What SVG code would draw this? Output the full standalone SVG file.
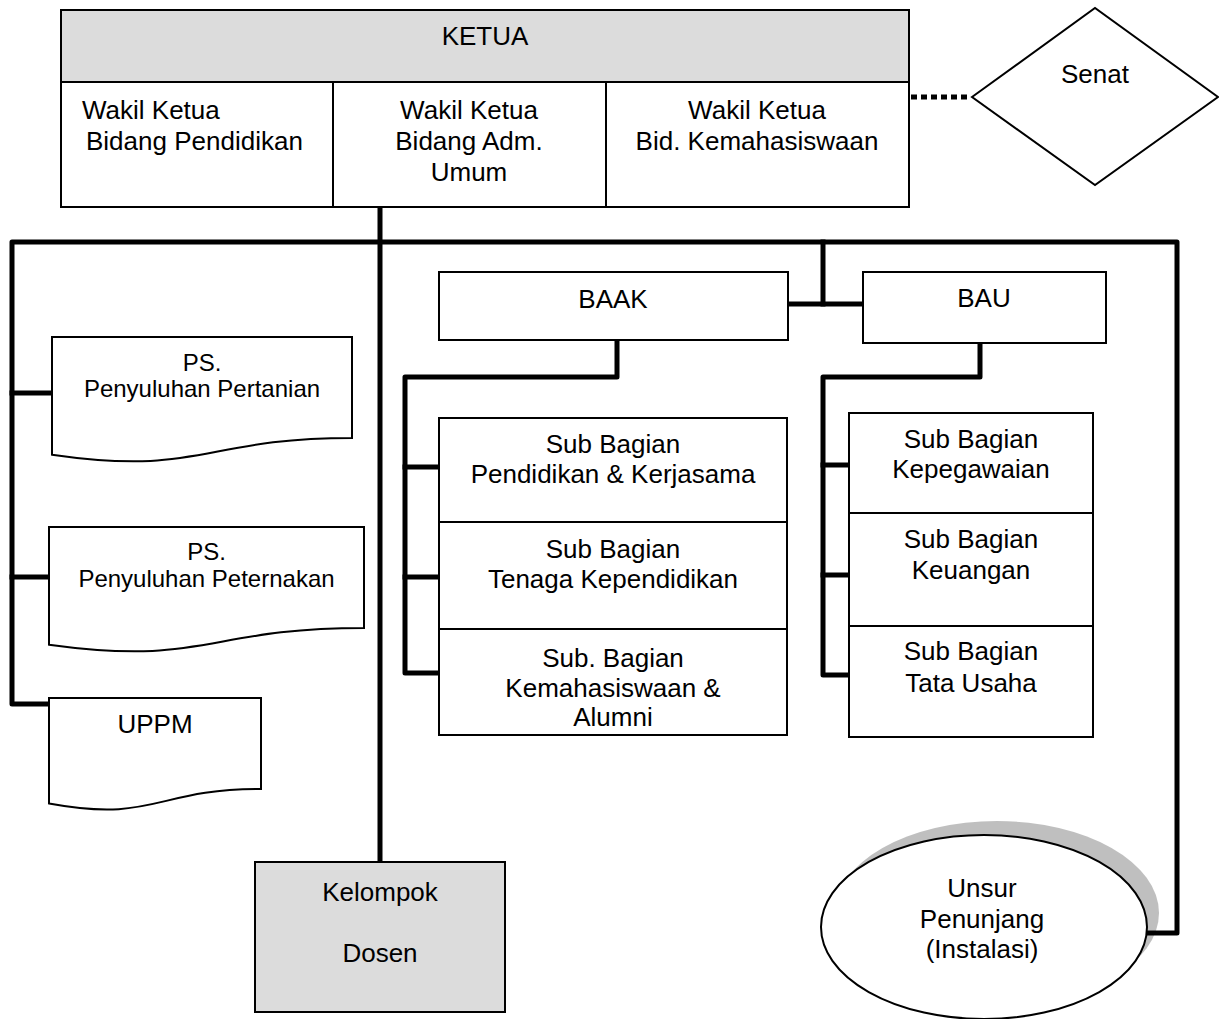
<svg xmlns="http://www.w3.org/2000/svg" width="1219" height="1019" viewBox="0 0 1219 1019">
<style>
  .bg { fill: #ffffff; }
  .box { fill: #ffffff; stroke: #000000; stroke-width: 2; }
  .gray { fill: #dcdcdc; stroke: #000000; stroke-width: 2; }
  .div { stroke: #000000; stroke-width: 2; fill: none; }
  .conn { fill: none; stroke: #000000; stroke-width: 5; stroke-linejoin: round; stroke-linecap: square; }
  .dot { fill: none; stroke: #000000; stroke-width: 5; stroke-dasharray: 6 4; }
  text { font-family: "Liberation Sans", Arial, sans-serif; font-size: 26px; fill: #000000; }
  .c { text-anchor: middle; }
  .s24 { font-size: 24px; }
  .shadow { fill: #000000; fill-opacity: 0.25; }
</style>
<rect class="bg" x="0" y="0" width="1219" height="1019"/>

<g id="connectors">
  <path class="conn" d="M380,207 V862"/>
  <path class="conn" d="M49,704 H12 V242 H1177 V933 H1143"/>
  <path class="conn" d="M12,393 H52"/>
  <path class="conn" d="M12,577 H49"/>
  <path class="conn" d="M788,304 H863"/>
  <path class="conn" d="M823,242 V304"/>
  <path class="conn" d="M617,340 V377 H405 V673 H439"/>
  <path class="conn" d="M405,467 H439"/>
  <path class="conn" d="M405,577 H439"/>
  <path class="conn" d="M980,343 V377 H823 V675 H849"/>
  <path class="conn" d="M823,465 H849"/>
  <path class="conn" d="M823,575 H849"/>
  <path class="dot" d="M911,97 H970"/>
</g>

<g id="ketua">
  <rect class="box" x="61" y="10" width="848" height="197"/>
  <rect class="gray" x="61" y="10" width="848" height="72"/>
  <line class="div" x1="333" y1="82" x2="333" y2="207"/>
  <line class="div" x1="606" y1="82" x2="606" y2="207"/>
  <text class="c" x="485" y="45">KETUA</text>
</g>

<g id="wakil-pendidikan">
  <text x="82" y="119">Wakil Ketua</text>
  <text x="86" y="150">Bidang Pendidikan</text>
</g>

<g id="wakil-adm">
  <text class="c" x="469" y="119">Wakil Ketua</text>
  <text class="c" x="469" y="150">Bidang Adm.</text>
  <text class="c" x="469" y="181">Umum</text>
</g>

<g id="wakil-kemahasiswaan">
  <text class="c" x="757" y="119">Wakil Ketua</text>
  <text class="c" x="757" y="150">Bid. Kemahasiswaan</text>
</g>

<g id="senat">
  <polygon class="box" points="972,97 1095,8 1218,97 1095,185"/>
  <text class="c" x="1095" y="83">Senat</text>
</g>

<g id="ps-pertanian">
  <path class="box" d="M52,337 H352 V438 C202,438 202,476.5 52,454.7 Z"/>
  <text class="c s24" x="202" y="371">PS.</text>
  <text class="c s24" x="202" y="397">Penyuluhan Pertanian</text>
</g>

<g id="ps-peternakan">
  <path class="box" d="M49,527 H364 V628 C206.5,628 206.5,666.5 49,644.7 Z"/>
  <text class="c s24" x="206.5" y="560">PS.</text>
  <text class="c s24" x="206.5" y="587">Penyuluhan Peternakan</text>
</g>

<g id="uppm">
  <path class="box" d="M49,698 H261 V789 C155,789 155,823 49,803.5 Z"/>
  <text class="c" x="155" y="733">UPPM</text>
</g>

<g id="kelompok-dosen">
  <rect class="gray" x="255" y="862" width="250" height="150"/>
  <text class="c" x="380" y="901">Kelompok</text>
  <text class="c" x="380" y="962">Dosen</text>
</g>

<g id="baak">
  <rect class="box" x="439" y="272" width="349" height="68"/>
  <text class="c" x="613" y="308">BAAK</text>
</g>

<g id="bau">
  <rect class="box" x="863" y="272" width="243" height="71"/>
  <text class="c" x="984" y="307">BAU</text>
</g>

<g id="sub-pendidikan">
  <rect class="box" x="439" y="418" width="348" height="104"/>
  <text class="c" x="613" y="453">Sub Bagian</text>
  <text class="c" x="613" y="483">Pendidikan &amp; Kerjasama</text>
</g>

<g id="sub-tenaga">
  <rect class="box" x="439" y="522" width="348" height="107"/>
  <text class="c" x="613" y="558">Sub Bagian</text>
  <text class="c" x="613" y="588">Tenaga Kependidikan</text>
</g>

<g id="sub-kemahasiswaan">
  <rect class="box" x="439" y="629" width="348" height="106"/>
  <text class="c" x="613" y="667">Sub. Bagian</text>
  <text class="c" x="613" y="697">Kemahasiswaan &amp;</text>
  <text class="c" x="613" y="726">Alumni</text>
</g>

<g id="sub-kepegawaian">
  <rect class="box" x="849" y="413" width="244" height="100"/>
  <text class="c" x="971" y="448">Sub Bagian</text>
  <text class="c" x="971" y="478">Kepegawaian</text>
</g>

<g id="sub-keuangan">
  <rect class="box" x="849" y="513" width="244" height="113"/>
  <text class="c" x="971" y="548">Sub Bagian</text>
  <text class="c" x="971" y="579">Keuangan</text>
</g>

<g id="sub-tatausaha">
  <rect class="box" x="849" y="626" width="244" height="111"/>
  <text class="c" x="971" y="660">Sub Bagian</text>
  <text class="c" x="971" y="692">Tata Usaha</text>
</g>

<g id="unsur-penunjang">
  <ellipse class="shadow" cx="997" cy="913" rx="162" ry="92"/>
  <ellipse class="box" cx="984" cy="927" rx="163" ry="92"/>
  <text class="c" x="982" y="897">Unsur</text>
  <text class="c" x="982" y="928">Penunjang</text>
  <text class="c" x="982" y="958">(Instalasi)</text>
</g>
</svg>
